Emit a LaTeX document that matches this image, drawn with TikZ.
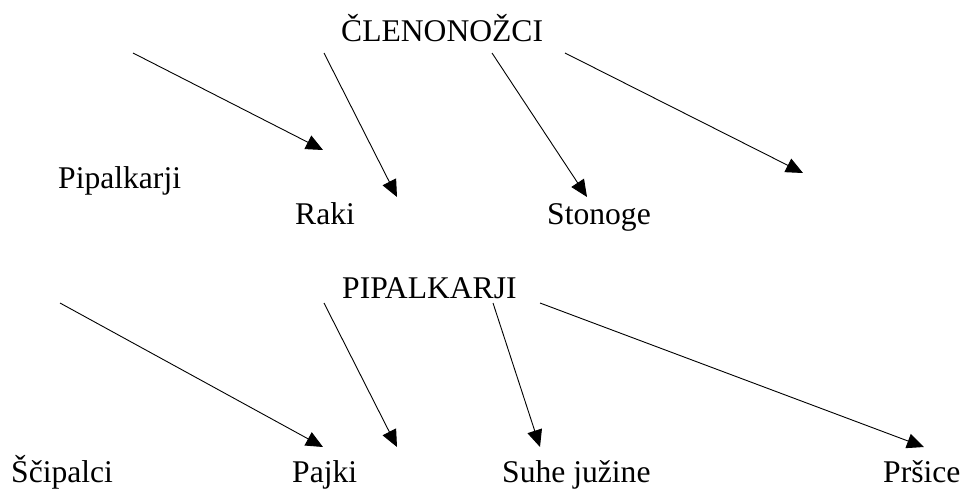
\documentclass[tikz,border=0pt]{standalone}
\usepackage{fontspec}
\setmainfont{Liberation Serif}
\usetikzlibrary{arrows.meta}
\begin{document}
\begin{tikzpicture}[x=1pt,y=-1pt,
  lbl/.style={anchor=base west,inner sep=0pt,font=\fontsize{31.6}{37}\selectfont},
  conn/.style={line width=0.9pt,-{Triangle[length=17pt,width=15pt]}}]
\useasboundingbox (0,0) rectangle (962,488);
% labels
\node[lbl] (clen) at (341,41) {ČLENONOŽCI};
\node[lbl] (pip1) at (58,188) {Pipalkarji};
\node[lbl] (raki) at (295,224) {Raki};
\node[lbl] (ston) at (547,224) {Stonoge};
\node[lbl] (pipU) at (342,298) {PIPALKARJI};
\node[lbl] (scip) at (11,482) {Ščipalci};
\node[lbl] (pajk) at (292,482) {Pajki};
\node[lbl] (suhe) at (502,482) {Suhe južine};
\node[lbl] (prsi) at (883,482) {Pršice};
% connector ends
\coordinate (a1) at (133,53);  \coordinate (b1) at (323,150);
\coordinate (a2) at (324,53);  \coordinate (b2) at (397,197);
\coordinate (a3) at (492,53);  \coordinate (b3) at (587,197);
\coordinate (a4) at (565,53);  \coordinate (b4) at (803,173);
\coordinate (a5) at (60,303);  \coordinate (b5) at (323,447);
\coordinate (a6) at (324,303); \coordinate (b6) at (397,447);
\coordinate (a7) at (493,303); \coordinate (b7) at (540,447);
\coordinate (a8) at (540,303); \coordinate (b8) at (924,447);
\draw[conn] (a1) -- (b1);
\draw[conn] (a2) -- (b2);
\draw[conn] (a3) -- (b3);
\draw[conn] (a4) -- (b4);
\draw[conn] (a5) -- (b5);
\draw[conn] (a6) -- (b6);
\draw[conn] (a7) -- (b7);
\draw[conn] (a8) -- (b8);
\end{tikzpicture}
\end{document}
